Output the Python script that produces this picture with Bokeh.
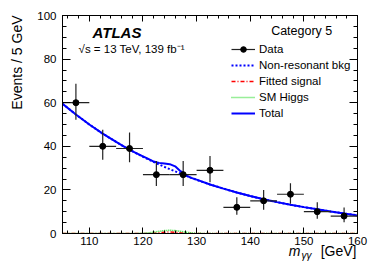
import math
from bokeh.plotting import figure
from bokeh.models import (FixedTicker, LinearAxis, Label, Legend, LegendItem, Title,
                          ColumnDataSource, CustomLabelingPolicy)
from bokeh.embed import file_html
from bokeh.resources import INLINE

# ---- data ----
bin_centers = [107.5, 112.5, 117.5, 122.5, 127.5, 132.5, 137.5, 142.5, 147.5, 152.5, 157.5]
bin_half_width = 2.5
data_y = [60, 40, 39, 27, 27, 29, 12, 15, 18, 10, 8]
data_hi = [68.7, 47.6, 46.3, 33.3, 33.3, 35.6, 16.6, 20.0, 23.1, 14.3, 11.9]
data_lo = [52.2, 33.8, 32.7, 21.8, 21.8, 23.5, 8.6, 10.9, 13.6, 6.8, 5.2]

bkg_x = [105, 107.5, 110, 112.5, 115, 117.5, 120, 122.5, 125, 127.5, 130, 132.5, 135,
         137.5, 140, 142.5, 145, 147.5, 150, 152.5, 155, 157.5, 160]
bkg_y = [59.5, 54.6, 50.0, 45.8, 42.0, 38.4, 35.2, 32.2, 29.5, 27.0, 24.6, 22.5, 20.6,
         18.8, 17.2, 15.7, 14.4, 13.2, 12.1, 11.1, 10.1, 9.2, 8.3]

total_x = [105, 107.5, 110, 112.5, 115, 117.5, 120, 121, 122, 123, 124, 125, 126, 127,
           128, 129, 130, 132.5, 135, 137.5, 140, 142.5, 145, 147.5, 150, 152.5, 155, 157.5, 160]
total_y = [59.5, 54.6, 50.0, 45.8, 42.0, 38.4, 35.4, 34.2, 33.0, 32.4, 32.1, 31.8, 30.8, 28.6,
           26.7, 25.5, 24.7, 22.5, 20.6, 18.8, 17.2, 15.7, 14.4, 13.2, 12.1, 11.1, 10.1, 9.2, 8.3]

sig_x = [105, 118, 120, 121, 122, 123, 124, 125, 126, 127, 128, 129, 130, 132, 160]
fitted_signal_y = [0, 0, 0.02, 0.05, 0.15, 0.35, 0.6, 0.7, 0.6, 0.35, 0.15, 0.05, 0.02, 0, 0]
sm_higgs_y = [0, 0, 0.1, 0.3, 0.6, 1.0, 1.35, 1.5, 1.35, 1.0, 0.6, 0.3, 0.1, 0, 0]

x_major = [110, 120, 130, 140, 150, 160]
x_minor = list(range(106, 161, 2))
y_major = [0, 20, 40, 60, 80, 100]
y_minor = list(range(0, 101, 5))

FONT = "Liberation Sans"

p = figure(frame_width=295, frame_height=218, x_range=(105, 160), y_range=(0, 100),
           output_backend="svg", toolbar_location=None,
           min_border_left=60, min_border_right=19, min_border_top=15, min_border_bottom=35)
p.xgrid.visible = False
p.ygrid.visible = False
p.outline_line_color = "black"
p.background_fill_color = "white"
p.border_fill_color = "white"

xt = FixedTicker(ticks=x_major, minor_ticks=x_minor)
yt = FixedTicker(ticks=y_major, minor_ticks=y_minor)

def style_axis(ax, ticker, major_len, minor_len, show_labels):
    ax.ticker = ticker
    ax.major_tick_in = major_len
    ax.major_tick_out = 0
    ax.minor_tick_in = minor_len
    ax.minor_tick_out = 0
    ax.axis_line_color = "black"
    ax.major_tick_line_color = "black"
    ax.minor_tick_line_color = "black"
    ax.axis_label = None
    if show_labels:
        ax.major_label_text_font = FONT
        ax.major_label_text_font_size = "11.5px"
        ax.major_label_text_color = "black"
    else:
        ax.major_label_text_font_size = "1px"
        ax.major_label_standoff = 0
        ax.major_label_policy = CustomLabelingPolicy(code="return new Set()")

style_axis(p.xaxis[0], xt, 6, 3, True)
p.xaxis[0].major_label_standoff = 3
style_axis(p.yaxis[0], yt, 8, 4, True)
p.yaxis[0].major_label_standoff = 6

ax_top = LinearAxis()
style_axis(ax_top, xt, 6, 3, False)
p.add_layout(ax_top, "above")
ax_right = LinearAxis()
style_axis(ax_right, yt, 8, 4, False)
p.add_layout(ax_right, "right")

# ---- axis titles (outside the frame) ----
p.add_layout(Title(text="Events / 5 GeV", align="right", offset=0, vertical_align="top",
                   standoff=16, text_font=FONT, text_font_size="14px",
                   text_font_style="normal", text_color="black"), "left")
p.add_layout(Title(text="[GeV]", align="right", offset=1, vertical_align="bottom",
                   standoff=-14, text_font=FONT, text_font_size="14px",
                   text_font_style="normal", text_color="black"), "below")
p.add_layout(Title(text="m", align="right", offset=57, vertical_align="top",
                   standoff=-18, text_font=FONT, text_font_size="14px",
                   text_font_style="italic", text_color="black"), "below")
p.add_layout(Title(text="\u03b3\u03b3", align="right", offset=46, vertical_align="top",
                   standoff=-4, text_font=FONT, text_font_size="10px",
                   text_font_style="italic", text_color="black"), "below")

# ---- curves ----
r_bkg = p.line(bkg_x, bkg_y, line_color="#0000ff", line_width=2, line_dash="2 2")
r_sig = p.line(sig_x, fitted_signal_y, line_color="#ff0000", line_width=1.5, line_dash="4 2 1 2")
r_sm = p.line(sig_x, sm_higgs_y, line_color="#33dd33", line_width=1.5, line_dash="1 1")
r_tot = p.line(total_x, total_y, line_color="#0000ff", line_width=2)

# ---- data ----
src = ColumnDataSource(dict(
    x=bin_centers, y=data_y, hi=data_hi, lo=data_lo,
    x0=[c - bin_half_width for c in bin_centers],
    x1=[c + bin_half_width for c in bin_centers]))
r_h = p.segment(x0="x0", y0="y", x1="x1", y1="y", source=src, line_color="#222222", line_width=1.2)
r_v = p.segment(x0="x", y0="lo", x1="x", y1="hi", source=src, line_color="#222222", line_width=1.2)
r_pt = p.scatter(x="x", y="y", source=src, marker="circle", size=6, color="black")

legend = Legend(items=[
    LegendItem(label="Data", renderers=[r_h, r_pt]),
    LegendItem(label="Non-resonant bkg", renderers=[r_bkg]),
    LegendItem(label="Fitted signal", renderers=[r_sig]),
    LegendItem(label="SM Higgs", renderers=[r_sm]),
    LegendItem(label="Total", renderers=[r_tot]),
], location=(169, 113))
legend.border_line_alpha = 0
legend.background_fill_alpha = 0
legend.padding = 0
legend.margin = 0
legend.spacing = 2
legend.glyph_width = 24
legend.glyph_height = 14
legend.label_height = 14
legend.label_standoff = 4
legend.label_text_font = FONT
legend.label_text_font_size = "11.5px"
legend.label_text_color = "black"
p.add_layout(legend, "center")

# ---- texts inside the frame (placed in axis units) ----
def lab(x, y, text, size, align="left", baseline="middle", style="normal"):
    p.add_layout(Label(x=x, y=y, text=text,
                       text_font=FONT, text_font_size=size, text_align=align,
                       text_baseline=baseline, text_font_style=style, text_color="black"))

lab(110.6, 92.4, "ATLAS", "15px", style="bold italic")
lab(108.0, 84.6, "\u221as = 13 TeV, 139 fb\u207b\u00b9", "11.5px")
lab(149.6, 92.7, "Category 5", "12.5px", align="center")

open("out.html", "w").write(file_html(p, INLINE))
